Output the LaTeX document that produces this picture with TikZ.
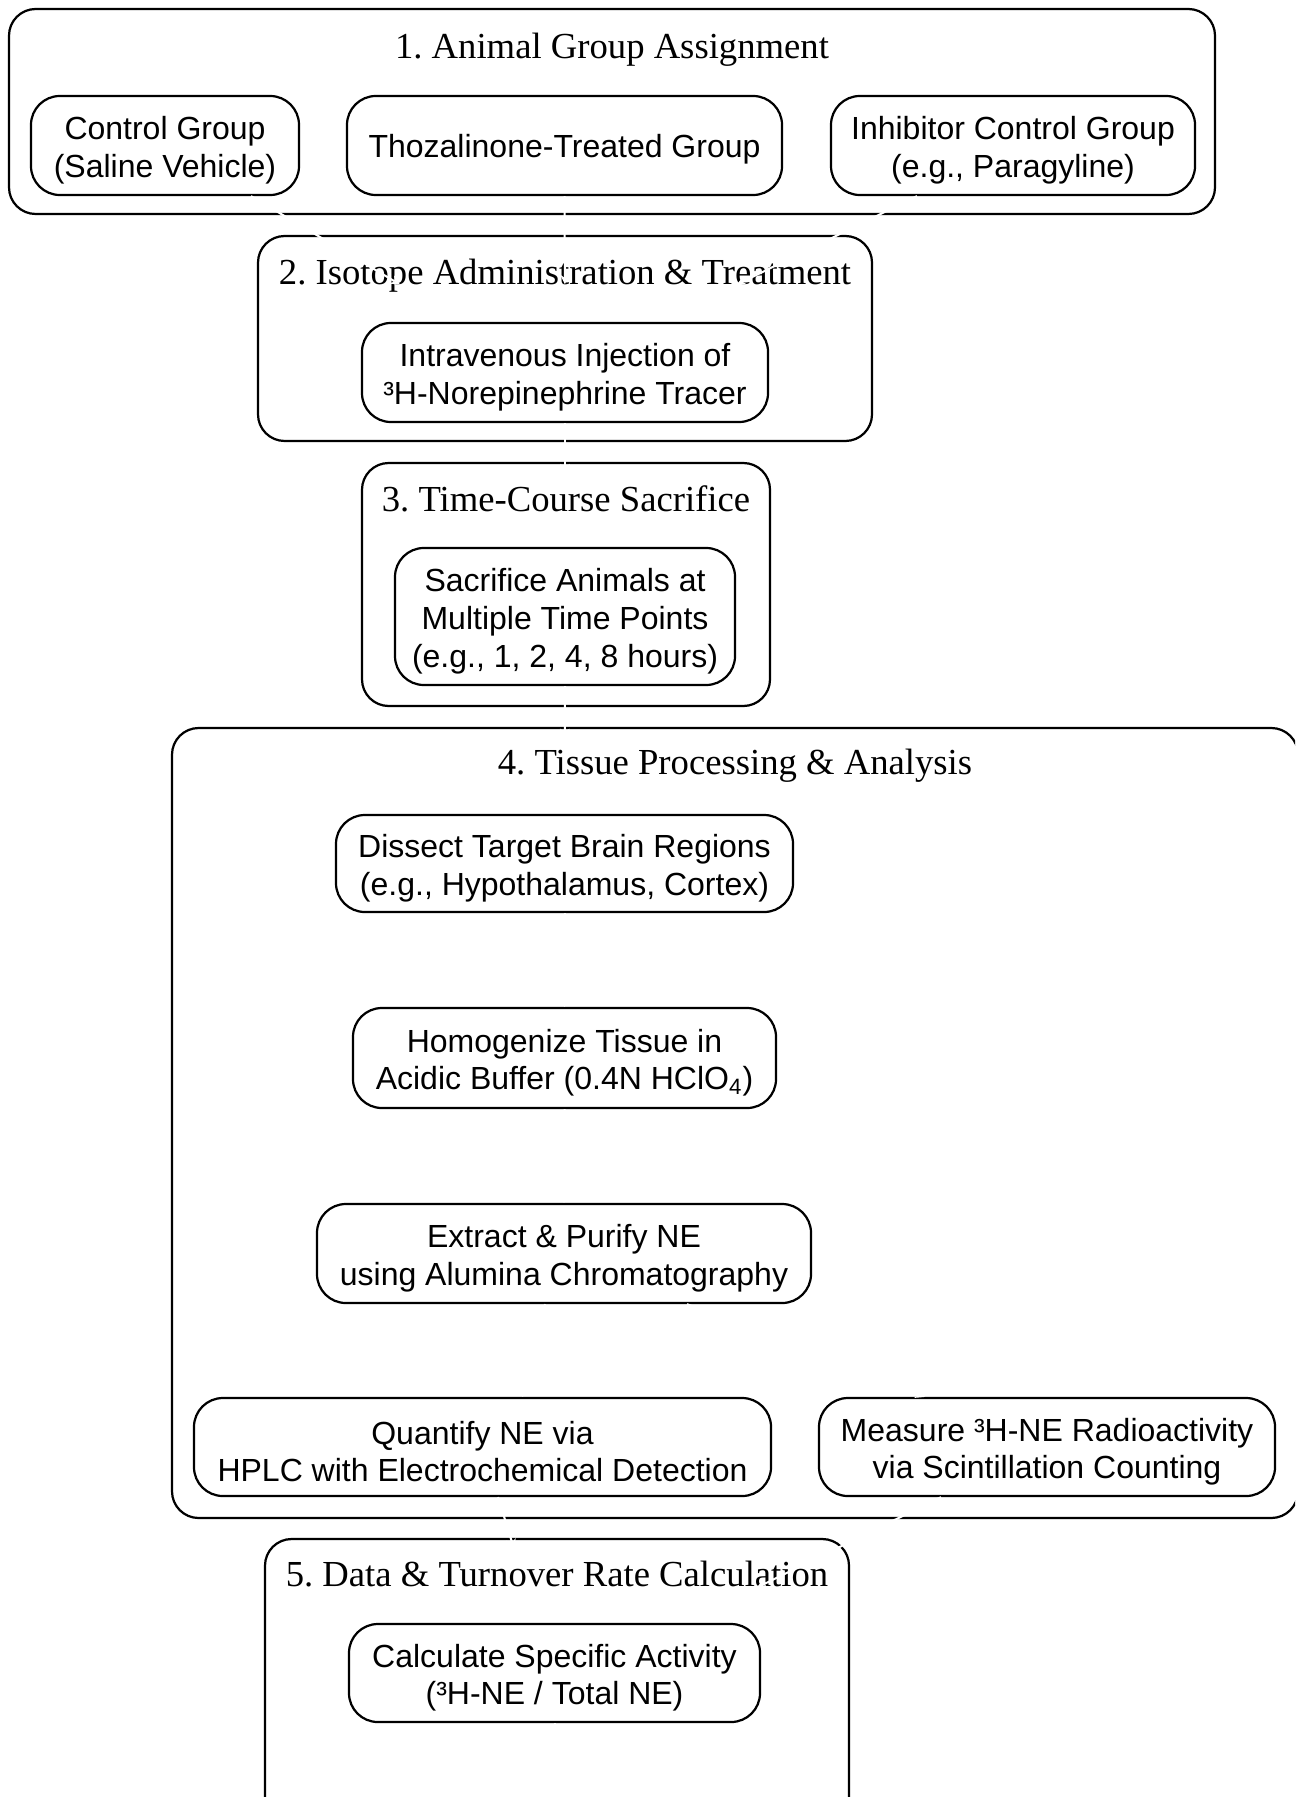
\documentclass[tikz,border=0pt]{standalone}
\usepackage{fontspec}
\setmainfont{Liberation Serif}
\setsansfont{Liberation Sans}
\usepackage{tikz}
\usetikzlibrary{calc,arrows,positioning,shapes}
\frenchspacing

\begin{document}
\begin{tikzpicture}[x=0.45pt,y=-0.45pt]

	\tikzstyle{stepbox} = [rectangle, draw, line width=1pt, rounded corners=13pt,
		align=center, inner sep=0pt, font=\fontsize{14.4}{17}\selectfont\sffamily]
	\tikzstyle{oneline} = [execute at begin node={\rule{0pt}{13.5pt}}]
	\tikzstyle{twoline} = [execute at begin node={\rule{0pt}{31.6pt}}]
	\tikzstyle{threeline} = [execute at begin node={\rule{0pt}{48.6pt}}]
	\tikzstyle{groupbox} = [draw, line width=1pt, rounded corners=12pt]
	\tikzstyle{grouptitle} = [inner sep=0pt, font=\fontsize{16.5}{20}\selectfont]
	\tikzstyle{flow} = [draw=white, line width=0.9pt, ->, >=stealth]

	\path[use as bounding box] (0,0) rectangle (1295,1797);
	\clip (0,0) rectangle (1295,1797);

	% groups
	\draw[groupbox] (9,9) rectangle (1215,214);
	\draw[groupbox] (258,236) rectangle (872,441);
	\draw[groupbox] (362,463) rectangle (770,706);
	\draw[groupbox] (172,728) rectangle (1298,1518);
	\draw[groupbox] (265,1539) rectangle (849,1900);

	\node[grouptitle] (t1) at (612,50) {1. Animal Group Assignment};
	\node[grouptitle] (t2) at (565,276) {2. Isotope Administration \& Treatment};
	\node[grouptitle] (t3) at (566,499) {3. Time-Course Sacrifice};
	\node[grouptitle] (t4) at (735,766) {4. Tissue Processing \& Analysis};
	\node[grouptitle] (t5) at (557,1574) {5. Data \& Turnover Rate Calculation};

	% steps
	\node[stepbox, twoline, minimum width=120.6pt, minimum height=44.55pt] (ctrl) at (165,145.5)
		{Control Group\\(Saline Vehicle)};
	\node[stepbox, oneline, minimum width=195.75pt, minimum height=44.55pt] (thoz) at (564.5,145.5)
		{Thozalinone-Treated Group};
	\node[stepbox, twoline, minimum width=163.8pt, minimum height=44.55pt] (inhib) at (1013,145.5)
		{Inhibitor Control Group\\(e.g., Paragyline)};
	\node[stepbox, twoline, minimum width=182.7pt, minimum height=44.55pt] (iv) at (565,372.5)
		{Intravenous Injection of\\³H-Norepinephrine Tracer};
	\node[stepbox, threeline, minimum width=153pt, minimum height=61.65pt] (sac) at (565,616.5)
		{Sacrifice Animals at\\Multiple Time Points\\(e.g., 1, 2, 4, 8 hours)};
	\node[stepbox, twoline, minimum width=205.65pt, minimum height=43.65pt] (dis) at (564.5,863.5)
		{Dissect Target Brain Regions\\(e.g., Hypothalamus, Cortex)};
	\node[stepbox, twoline, minimum width=190.35pt, minimum height=45pt] (hom) at (564.5,1058)
		{Homogenize Tissue in\\Acidic Buffer (0.4N HClO\textsubscript{4})};
	\node[stepbox, twoline, minimum width=222.3pt, minimum height=44.55pt] (ext) at (564,1253.5)
		{Extract \& Purify NE\\using Alumina Chromatography};
	\node[stepbox, twoline, minimum width=259.65pt, minimum height=44.1pt] (quant) at (482.5,1447)
		{Quantify NE via\\HPLC with Electrochemical Detection};
	\node[stepbox, twoline, minimum width=205.2pt, minimum height=44.1pt] (meas) at (1047,1447)
		{Measure ³H-NE Radioactivity\\via Scintillation Counting};
	\node[stepbox, twoline, minimum width=184.95pt, minimum height=44.1pt] (calc) at (554.5,1673)
		{Calculate Specific Activity\\(³H-NE / Total NE)};
	\coordinate (below) at (554.5,1900);

	% flow
	\draw[flow, shorten >=33pt] ($(ctrl.south)+(86,0)$) -- ($(iv.north)+(-102,0)$);
	\draw[flow, shorten >=17pt] (thoz.south) -- (iv.north);
	\draw[flow, shorten >=38pt] ($(inhib.south)+(-96,0)$) -- ($(iv.north)+(96,0)$);
	\draw[flow, shorten >=33pt] (iv.south) -- (sac.north);
	\draw[flow, shorten >=34pt] (sac.south) -- (dis.north);
	\draw[flow] (dis.south) -- (hom.north);
	\draw[flow] (hom.south) -- (ext.north);
	\draw[flow] ($(ext.south)+(-19,0)$) -- ($(quant.north)+(40,0)$);
	\draw[flow] ($(ext.south)+(123,0)$) -- ($(meas.north)+(-122,0)$);
	\draw[flow, shorten >=35pt] ($(quant.south)+(15.5,0)$) -- ($(calc.north)+(-17.5,0)$);
	\draw[flow, shorten >=36pt] ($(meas.south)+(-106,0)$) -- ($(calc.north)+(130.5,0)$);
	\draw[flow] (calc.south) -- (below);

\end{tikzpicture}
\end{document}
